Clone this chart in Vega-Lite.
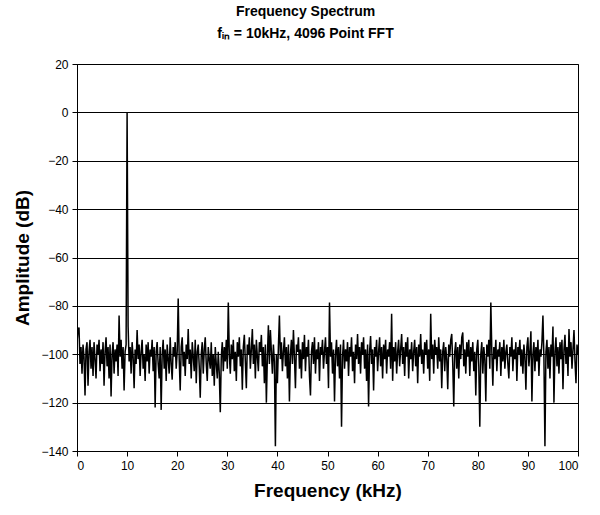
{
  "$schema": "https://vega.github.io/schema/vega-lite/v6.json",
  "autosize": {"type": "none"},
  "width": 501,
  "height": 387,
  "padding": {"left": 77, "top": 64, "right": 22, "bottom": 64},
  "background": "white",
  "title": {
    "text": "Frequency Spectrum",
    "subtitle": "fᵢₙ = 10kHz, 4096 Point FFT",
    "anchor": "middle",
    "dx": -22,
    "offset": 17,
    "font": "Liberation Sans",
    "fontSize": 14,
    "fontWeight": "bold",
    "color": "black",
    "subtitleFont": "Liberation Sans",
    "subtitleFontSize": 14,
    "subtitleFontWeight": "bold",
    "subtitleColor": "black",
    "subtitlePadding": 8
  },
  "data": {"values": [
{"f":0.0,"a":-95},{"f":0.2,"a":-90},{"f":0.4,"a":-89},{"f":0.6,"a":-104},{"f":0.8,"a":-97},{"f":1.0,"a":-108},{"f":1.2,"a":-96},{"f":1.4,"a":-101},{"f":1.6,"a":-117},{"f":1.8,"a":-98},
{"f":2.0,"a":-95},{"f":2.2,"a":-113},{"f":2.4,"a":-99},{"f":2.6,"a":-94},{"f":2.8,"a":-106},{"f":3.0,"a":-97},{"f":3.2,"a":-109},{"f":3.4,"a":-95},{"f":3.6,"a":-102},{"f":3.8,"a":-110},
{"f":4.0,"a":-96},{"f":4.2,"a":-100},{"f":4.4,"a":-94},{"f":4.6,"a":-107},{"f":4.8,"a":-98},{"f":5.0,"a":-104},{"f":5.2,"a":-95},{"f":5.4,"a":-113},{"f":5.6,"a":-99},{"f":5.8,"a":-93},
{"f":6.0,"a":-105},{"f":6.2,"a":-97},{"f":6.4,"a":-110},{"f":6.6,"a":-96},{"f":6.8,"a":-117.5},{"f":7.0,"a":-100},{"f":7.2,"a":-95},{"f":7.4,"a":-108},{"f":7.6,"a":-98},{"f":7.8,"a":-103},
{"f":8.0,"a":-96},{"f":8.2,"a":-109},{"f":8.4,"a":-84},{"f":8.6,"a":-101},{"f":8.8,"a":-94},{"f":9.0,"a":-106},{"f":9.2,"a":-97},{"f":9.4,"a":-115},{"f":9.6,"a":-99},{"f":9.8,"a":-96},
{"f":10.0,"a":0},{"f":10.2,"a":-88.5},{"f":10.4,"a":-103},{"f":10.6,"a":-97},{"f":10.8,"a":-108},{"f":11.0,"a":-95},{"f":11.2,"a":-101},{"f":11.4,"a":-114},{"f":11.6,"a":-98},{"f":11.8,"a":-104},
{"f":12.0,"a":-90},{"f":12.2,"a":-102},{"f":12.4,"a":-96},{"f":12.6,"a":-109},{"f":12.8,"a":-99},{"f":13.0,"a":-94},{"f":13.2,"a":-106},{"f":13.4,"a":-100},{"f":13.6,"a":-111},{"f":13.8,"a":-96},
{"f":14.0,"a":-103},{"f":14.2,"a":-95},{"f":14.4,"a":-108},{"f":14.6,"a":-98},{"f":14.8,"a":-101},{"f":15.0,"a":-94},{"f":15.2,"a":-107},{"f":15.4,"a":-97},{"f":15.6,"a":-122},{"f":15.8,"a":-99},
{"f":16.0,"a":-95},{"f":16.2,"a":-104},{"f":16.4,"a":-110},{"f":16.6,"a":-97},{"f":16.8,"a":-123},{"f":17.0,"a":-100},{"f":17.2,"a":-94},{"f":17.4,"a":-106},{"f":17.6,"a":-98},{"f":17.8,"a":-111},
{"f":18.0,"a":-96},{"f":18.2,"a":-102},{"f":18.4,"a":-108},{"f":18.6,"a":-93},{"f":18.8,"a":-104},{"f":19.0,"a":-110.5},{"f":19.2,"a":-97},{"f":19.4,"a":-101},{"f":19.6,"a":-95},{"f":19.8,"a":-106},
{"f":20.0,"a":-99},{"f":20.2,"a":-77},{"f":20.4,"a":-102},{"f":20.6,"a":-115},{"f":20.8,"a":-97},{"f":21.0,"a":-93},{"f":21.2,"a":-105},{"f":21.4,"a":-99},{"f":21.6,"a":-109},{"f":21.8,"a":-96},
{"f":22.0,"a":-102},{"f":22.2,"a":-89.6},{"f":22.4,"a":-104},{"f":22.6,"a":-98},{"f":22.8,"a":-110},{"f":23.0,"a":-95},{"f":23.2,"a":-101},{"f":23.4,"a":-107},{"f":23.6,"a":-94},{"f":23.8,"a":-112},
{"f":24.0,"a":-99},{"f":24.2,"a":-96},{"f":24.4,"a":-105},{"f":24.6,"a":-118},{"f":24.8,"a":-100},{"f":25.0,"a":-95},{"f":25.2,"a":-108},{"f":25.4,"a":-98},{"f":25.6,"a":-93},{"f":25.8,"a":-104},
{"f":26.0,"a":-111},{"f":26.2,"a":-97},{"f":26.4,"a":-102},{"f":26.6,"a":-106},{"f":26.8,"a":-95},{"f":27.0,"a":-109},{"f":27.2,"a":-100},{"f":27.4,"a":-113},{"f":27.6,"a":-97},{"f":27.8,"a":-104},
{"f":28.0,"a":-110},{"f":28.2,"a":-99},{"f":28.4,"a":-108},{"f":28.6,"a":-124},{"f":28.8,"a":-101},{"f":29.0,"a":-95},{"f":29.2,"a":-107},{"f":29.4,"a":-97},{"f":29.6,"a":-103},{"f":29.8,"a":-94},
{"f":30.0,"a":-106},{"f":30.2,"a":-78.6},{"f":30.4,"a":-100},{"f":30.6,"a":-108},{"f":30.8,"a":-96},{"f":31.0,"a":-102},{"f":31.2,"a":-94},{"f":31.4,"a":-107},{"f":31.6,"a":-99},{"f":31.8,"a":-111},
{"f":32.0,"a":-95},{"f":32.2,"a":-101},{"f":32.4,"a":-93},{"f":32.6,"a":-105},{"f":32.8,"a":-98},{"f":33.0,"a":-114.7},{"f":33.2,"a":-97},{"f":33.4,"a":-92},{"f":33.6,"a":-103},{"f":33.8,"a":-114},
{"f":34.0,"a":-96},{"f":34.2,"a":-100},{"f":34.4,"a":-93},{"f":34.6,"a":-106},{"f":34.8,"a":-98},{"f":35.0,"a":-89.6},{"f":35.2,"a":-104},{"f":35.4,"a":-96},{"f":35.6,"a":-110},{"f":35.8,"a":-94},
{"f":36.0,"a":-101},{"f":36.2,"a":-107},{"f":36.4,"a":-95},{"f":36.6,"a":-99},{"f":36.8,"a":-92},{"f":37.0,"a":-105},{"f":37.2,"a":-97},{"f":37.4,"a":-112},{"f":37.6,"a":-96},{"f":37.8,"a":-120},
{"f":38.0,"a":-101},{"f":38.2,"a":-88},{"f":38.4,"a":-104},{"f":38.6,"a":-90},{"f":38.8,"a":-99},{"f":39.0,"a":-108},{"f":39.2,"a":-96},{"f":39.4,"a":-103},{"f":39.6,"a":-138},{"f":39.8,"a":-100},
{"f":40.0,"a":-112},{"f":40.2,"a":-97},{"f":40.4,"a":-84},{"f":40.6,"a":-102},{"f":40.8,"a":-95},{"f":41.0,"a":-107},{"f":41.2,"a":-99},{"f":41.4,"a":-93},{"f":41.6,"a":-105},{"f":41.8,"a":-97},
{"f":42.0,"a":-110},{"f":42.2,"a":-96},{"f":42.4,"a":-119.5},{"f":42.6,"a":-100},{"f":42.8,"a":-94},{"f":43.0,"a":-104},{"f":43.2,"a":-90},{"f":43.4,"a":-101},{"f":43.6,"a":-114},{"f":43.8,"a":-96},
{"f":44.0,"a":-99},{"f":44.2,"a":-93},{"f":44.4,"a":-106},{"f":44.6,"a":-98},{"f":44.8,"a":-110},{"f":45.0,"a":-95},{"f":45.2,"a":-102},{"f":45.4,"a":-92},{"f":45.6,"a":-107},{"f":45.8,"a":-97},
{"f":46.0,"a":-101},{"f":46.2,"a":-94},{"f":46.4,"a":-109},{"f":46.6,"a":-117},{"f":46.8,"a":-99},{"f":47.0,"a":-95},{"f":47.2,"a":-104},{"f":47.4,"a":-93},{"f":47.6,"a":-108},{"f":47.8,"a":-98},
{"f":48.0,"a":-102},{"f":48.2,"a":-95},{"f":48.4,"a":-111},{"f":48.6,"a":-97},{"f":48.8,"a":-100},{"f":49.0,"a":-94},{"f":49.2,"a":-106},{"f":49.4,"a":-99},{"f":49.6,"a":-93},{"f":49.8,"a":-104},
{"f":50.0,"a":-97},{"f":50.2,"a":-114},{"f":50.4,"a":-78.6},{"f":50.6,"a":-101},{"f":50.8,"a":-95},{"f":51.0,"a":-108},{"f":51.2,"a":-98},{"f":51.4,"a":-119.5},{"f":51.6,"a":-100},{"f":51.8,"a":-94},
{"f":52.0,"a":-105},{"f":52.2,"a":-97},{"f":52.4,"a":-110},{"f":52.6,"a":-96},{"f":52.8,"a":-130},{"f":53.0,"a":-101},{"f":53.2,"a":-94},{"f":53.4,"a":-106},{"f":53.6,"a":-98},{"f":53.8,"a":-103},
{"f":54.0,"a":-95},{"f":54.2,"a":-109},{"f":54.4,"a":-97},{"f":54.6,"a":-101},{"f":54.8,"a":-93},{"f":55.0,"a":-107},{"f":55.2,"a":-99},{"f":55.4,"a":-112},{"f":55.6,"a":-96},{"f":55.8,"a":-102},
{"f":56.0,"a":-91.6},{"f":56.2,"a":-104},{"f":56.4,"a":-97},{"f":56.6,"a":-108},{"f":56.8,"a":-95},{"f":57.0,"a":-100},{"f":57.2,"a":-93},{"f":57.4,"a":-106},{"f":57.6,"a":-98},{"f":57.8,"a":-111},
{"f":58.0,"a":-96},{"f":58.2,"a":-121.6},{"f":58.4,"a":-99},{"f":58.6,"a":-92.5},{"f":58.8,"a":-104},{"f":59.0,"a":-98},{"f":59.2,"a":-115},{"f":59.4,"a":-97},{"f":59.6,"a":-101},{"f":59.8,"a":-94},
{"f":60.0,"a":-107},{"f":60.2,"a":-99},{"f":60.4,"a":-93},{"f":60.6,"a":-105},{"f":60.8,"a":-97},{"f":61.0,"a":-110},{"f":61.2,"a":-96},{"f":61.4,"a":-102},{"f":61.6,"a":-94},{"f":61.8,"a":-108},
{"f":62.0,"a":-98},{"f":62.2,"a":-101},{"f":62.4,"a":-95},{"f":62.6,"a":-106},{"f":62.8,"a":-83.3},{"f":63.0,"a":-111},{"f":63.2,"a":-97},{"f":63.4,"a":-103},{"f":63.6,"a":-95},{"f":63.8,"a":-108},
{"f":64.0,"a":-99},{"f":64.2,"a":-94},{"f":64.4,"a":-105},{"f":64.6,"a":-98},{"f":64.8,"a":-91.6},{"f":65.0,"a":-104},{"f":65.2,"a":-97},{"f":65.4,"a":-109},{"f":65.6,"a":-95},{"f":65.8,"a":-101},
{"f":66.0,"a":-93},{"f":66.2,"a":-110},{"f":66.4,"a":-98},{"f":66.6,"a":-102},{"f":66.8,"a":-95},{"f":67.0,"a":-107},{"f":67.2,"a":-99},{"f":67.4,"a":-94},{"f":67.6,"a":-105},{"f":67.8,"a":-97},
{"f":68.0,"a":-112},{"f":68.2,"a":-96},{"f":68.4,"a":-101},{"f":68.6,"a":-91.6},{"f":68.8,"a":-104},{"f":69.0,"a":-98},{"f":69.2,"a":-108},{"f":69.4,"a":-95},{"f":69.6,"a":-100},{"f":69.8,"a":-94},
{"f":70.0,"a":-106},{"f":70.2,"a":-98},{"f":70.4,"a":-111},{"f":70.6,"a":-83.3},{"f":70.8,"a":-102},{"f":71.0,"a":-96},{"f":71.2,"a":-108},{"f":71.4,"a":-94},{"f":71.6,"a":-100},{"f":71.8,"a":-97},
{"f":72.0,"a":-106},{"f":72.2,"a":-93},{"f":72.4,"a":-103},{"f":72.6,"a":-98},{"f":72.8,"a":-114},{"f":73.0,"a":-99},{"f":73.2,"a":-95},{"f":73.4,"a":-107},{"f":73.6,"a":-97},{"f":73.8,"a":-102},
{"f":74.0,"a":-114.5},{"f":74.2,"a":-96},{"f":74.4,"a":-101},{"f":74.6,"a":-94},{"f":74.8,"a":-91.6},{"f":75.0,"a":-104},{"f":75.2,"a":-121.6},{"f":75.4,"a":-99},{"f":75.6,"a":-95},{"f":75.8,"a":-106},
{"f":76.0,"a":-97},{"f":76.2,"a":-110},{"f":76.4,"a":-96},{"f":76.6,"a":-102},{"f":76.8,"a":-93},{"f":77.0,"a":-91},{"f":77.2,"a":-105},{"f":77.4,"a":-98},{"f":77.6,"a":-108},{"f":77.8,"a":-95},
{"f":78.0,"a":-101},{"f":78.2,"a":-94},{"f":78.4,"a":-109},{"f":78.6,"a":-97},{"f":78.8,"a":-103},{"f":79.0,"a":-95},{"f":79.2,"a":-107},{"f":79.4,"a":-99},{"f":79.6,"a":-117},{"f":79.8,"a":-98},
{"f":80.0,"a":-94},{"f":80.2,"a":-105},{"f":80.4,"a":-130},{"f":80.6,"a":-100},{"f":80.8,"a":-95},{"f":81.0,"a":-108},{"f":81.2,"a":-97},{"f":81.4,"a":-102},{"f":81.6,"a":-119.5},{"f":81.8,"a":-96},
{"f":82.0,"a":-101},{"f":82.2,"a":-94},{"f":82.4,"a":-106},{"f":82.6,"a":-78.6},{"f":82.8,"a":-99},{"f":83.0,"a":-113},{"f":83.2,"a":-97},{"f":83.4,"a":-102},{"f":83.6,"a":-94},{"f":83.8,"a":-107},
{"f":84.0,"a":-98},{"f":84.2,"a":-101},{"f":84.4,"a":-95},{"f":84.6,"a":-109},{"f":84.8,"a":-97},{"f":85.0,"a":-103},{"f":85.2,"a":-94},{"f":85.4,"a":-106},{"f":85.6,"a":-99},{"f":85.8,"a":-96},
{"f":86.0,"a":-104},{"f":86.2,"a":-110},{"f":86.4,"a":-97},{"f":86.6,"a":-101},{"f":86.8,"a":-93},{"f":87.0,"a":-107},{"f":87.2,"a":-98},{"f":87.4,"a":-102},{"f":87.6,"a":-95},{"f":87.8,"a":-111},
{"f":88.0,"a":-97},{"f":88.2,"a":-100},{"f":88.4,"a":-94},{"f":88.6,"a":-105},{"f":88.8,"a":-98},{"f":89.0,"a":-108},{"f":89.2,"a":-96},{"f":89.4,"a":-101},{"f":89.6,"a":-114.7},{"f":89.8,"a":-97},
{"f":90.0,"a":-93},{"f":90.2,"a":-105},{"f":90.4,"a":-99},{"f":90.6,"a":-90.5},{"f":90.8,"a":-119.5},{"f":91.0,"a":-100},{"f":91.2,"a":-95},{"f":91.4,"a":-107},{"f":91.6,"a":-97},{"f":91.8,"a":-103},
{"f":92.0,"a":-94},{"f":92.2,"a":-109},{"f":92.4,"a":-98},{"f":92.6,"a":-101},{"f":92.8,"a":-95},{"f":93.0,"a":-84},{"f":93.2,"a":-102},{"f":93.4,"a":-138},{"f":93.6,"a":-99},{"f":93.8,"a":-94},
{"f":94.0,"a":-106},{"f":94.2,"a":-97},{"f":94.4,"a":-110},{"f":94.6,"a":-96},{"f":94.8,"a":-101},{"f":95.0,"a":-88.5},{"f":95.2,"a":-120},{"f":95.4,"a":-99},{"f":95.6,"a":-93},{"f":95.8,"a":-105},
{"f":96.0,"a":-97},{"f":96.2,"a":-108},{"f":96.4,"a":-95},{"f":96.6,"a":-102},{"f":96.8,"a":-94},{"f":97.0,"a":-114.5},{"f":97.2,"a":-98},{"f":97.4,"a":-92},{"f":97.6,"a":-104},{"f":97.8,"a":-97},
{"f":98.0,"a":-109},{"f":98.2,"a":-89.6},{"f":98.4,"a":-101},{"f":98.6,"a":-95},{"f":98.8,"a":-106},{"f":99.0,"a":-98},{"f":99.2,"a":-90},{"f":99.4,"a":-103},{"f":99.6,"a":-112},{"f":99.8,"a":-96},
{"f":100.0,"a":-100}
  ]},
  "mark": {"type": "line", "color": "black", "strokeWidth": 1.5, "clip": true},
  "encoding": {
    "x": {
      "field": "f",
      "type": "quantitative",
      "scale": {"domain": [0, 100], "nice": false},
      "axis": {
        "title": "Frequency (kHz)",
        "values": [0, 10, 20, 30, 40, 50, 60, 70, 80, 90, 100],
        "grid": false,
        "tickSize": 5,
        "labelPadding": 4,
        "titlePadding": 10
      }
    },
    "y": {
      "field": "a",
      "type": "quantitative",
      "scale": {"domain": [-140, 20], "nice": false},
      "axis": {
        "title": "Amplitude (dB)",
        "values": [-140, -120, -100, -80, -60, -40, -20, 0, 20],
        "grid": true,
        "tickSize": 5,
        "labelPadding": 4,
        "titlePadding": 8
      }
    }
  },
  "config": {
    "view": {"stroke": "black", "strokeWidth": 1},
    "axis": {
      "domainColor": "black",
      "domainWidth": 1,
      "tickColor": "black",
      "tickWidth": 1,
      "gridColor": "black",
      "gridWidth": 1,
      "gridOpacity": 1,
      "labelFont": "Liberation Sans",
      "labelFontSize": 12,
      "labelColor": "black",
      "titleFont": "Liberation Sans",
      "titleFontSize": 19,
      "titleFontWeight": "bold",
      "titleColor": "black"
    }
  }
}
